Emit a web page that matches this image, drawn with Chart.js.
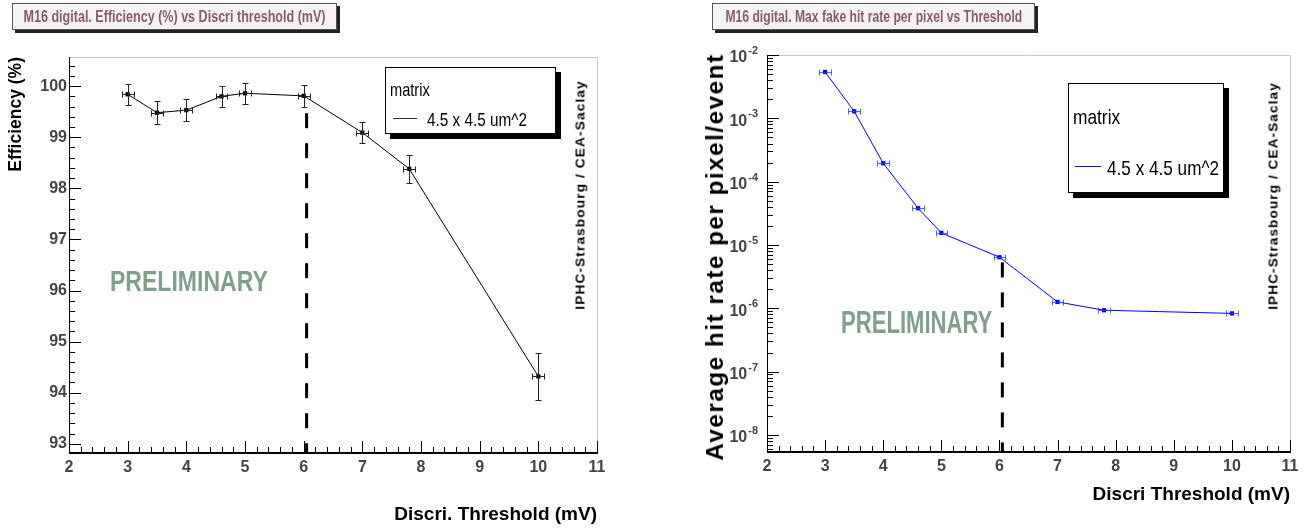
<!DOCTYPE html>
<html>
<head>
<meta charset="utf-8">
<script src="https://cdn.jsdelivr.net/npm/chart.js@4.4.1/dist/chart.umd.min.js"></script>
<style>
  html, body { margin: 0; padding: 0; background: #fff; }
  body { width: 1313px; height: 530px; position: relative; overflow: hidden;
         font-family: "Liberation Sans", Arial, sans-serif; }
  canvas { position: absolute; top: 0; }
  #effCanvas { left: 0; }
  #rateCanvas { left: 656px; }
  .pad-title { position: absolute; top: 3px; height: 27px; box-sizing: border-box;
               display: flex; align-items: center; justify-content: center;
               background: #f4f2f4; border: 1px solid #555; box-shadow: 3px 3px 0 #222;
               color: #8c5a66; font-weight: bold; font-size: 17px; white-space: nowrap; }
  .pad-title span { display: inline-block; transform: scaleX(var(--k, 1)); }
  .legend { position: absolute; box-sizing: border-box; background: #fff; border: 1px solid #000; box-shadow: 5px 5px 0 #000; }
  .legend span { position: absolute; white-space: nowrap; line-height: 1; transform-origin: left center;
                 transform: translateY(-50%) scaleX(var(--k, 1)); }
  .legend i { position: absolute; height: 0; }
  .prelim { position: absolute; color: #80a08c; font-weight: bold; white-space: nowrap; line-height: 1;
            transform-origin: left center; transform: translateY(-50%) scaleX(var(--k, 1)); }
  .vtext { position: absolute; font-weight: bold; white-space: nowrap; line-height: 1;
           transform: translate(-50%, -50%) rotate(-90deg) scaleX(var(--k, 1)); }
</style>
</head>
<body>
<canvas id="effCanvas" width="656" height="530"></canvas>
<canvas id="rateCanvas" width="657" height="530"></canvas>

<div class="pad-title" style="left:12px; width:325px;"><span data-fit="302">M16 digital. Efficiency (%) vs Discri threshold (mV)</span></div>
<div class="pad-title" style="left:712px; width:323px;"><span data-fit="297">M16 digital. Max fake hit rate per pixel vs Threshold</span></div>

<div class="legend" style="left:385px; top:67px; width:171px; height:67px;">
  <span data-fit="40" style="left:4px; top:21px; font-size:19px;">matrix</span>
  <i style="left:7px; top:50px; width:24px; border-top:1.5px solid #333;"></i>
  <span data-fit="100" style="left:41px; top:51px; font-size:19px;">4.5 x 4.5 um^2</span>
</div>
<div class="legend" style="left:1068px; top:83px; width:156px; height:110px;">
  <span data-fit="47" style="left:4px; top:32px; font-size:21px;">matrix</span>
  <i style="left:6px; top:82px; width:26px; border-top:1px solid #0000ff;"></i>
  <span data-fit="112" style="left:38px; top:83px; font-size:21px;">4.5 x 4.5 um^2</span>
</div>

<div class="prelim" data-fit="158" style="left:110px; top:281px; font-size:29px;">PRELIMINARY</div>
<div class="prelim" data-fit="151" style="left:841px; top:322px; font-size:31px;">PRELIMINARY</div>

<div class="vtext" data-fit="230" style="left:580px; top:195px; font-size:13px; letter-spacing:1px;">IPHC-Strasbourg / CEA-Saclay</div>
<div class="vtext" data-fit="228" style="left:1273px; top:196px; font-size:13px; letter-spacing:1px;">IPHC-Strasbourg / CEA-Saclay</div>
<div class="vtext" data-fit="407" style="left:715px; top:257px; font-size:24px; letter-spacing:1.5px;">Average hit rate per pixel/event</div>

<script>
// squeeze overlay labels to the width they take on the canvas
document.querySelectorAll('[data-fit]').forEach(el => {
  el.style.setProperty('--k', (+el.dataset.fit / el.offsetWidth).toFixed(4));
});

// discriminator thresholds (mV) scanned
const thresholds = [3, 3.5, 4, 4.6, 5, 6, 7, 7.8, 10];
const thresholdErr = [0.1, 0.1, 0.1, 0.1, 0.1, 0.1, 0.1, 0.1, 0.1];

// detection efficiency (%)
const efficiency = [99.84, 99.48, 99.53, 99.80, 99.86, 99.81, 99.09, 98.38, 94.32];
const efficiencyErr = [0.21, 0.22, 0.21, 0.21, 0.21, 0.21, 0.21, 0.27, 0.46];

// max fake hit rate per pixel per event
const fakeRate = [5.4e-3, 1.29e-3, 1.95e-4, 3.8e-5, 1.55e-5, 6.4e-6, 1.26e-6, 9.3e-7, 8.3e-7];

// chosen working point
const workingPoint = 6.05;
const effCutTop = 99.47;
const rateCutTop = 5.3e-6;

// axis ranges and tick labels
const xTicks = [2, 3, 4, 5, 6, 7, 8, 9, 10, 11];
const effTicks = [93, 94, 95, 96, 97, 98, 99, 100];
const rateDecades = [-8, -7, -6, -5, -4, -3, -2];
const effMin = 92.82, effMax = 100.57;
const rateMin = Math.pow(10, -8.27), rateMax = 1e-2;

const sans = '"Liberation Sans", sans-serif';
const tickFont = { family: sans, size: 16, weight: 'bold' };
const tickColor = '#444';

// ROOT style frame: ticks pointing into the pad, grey top/right border
const rootFrame = {
  id: 'rootFrame',
  afterDraw(chart, args, opts) {
    const { ctx, chartArea: a, scales: { x, y } } = chart;
    ctx.save();
    ctx.lineWidth = 1;
    ctx.strokeStyle = '#c8c8c8';
    ctx.beginPath();
    ctx.moveTo(a.left, a.top + 0.5); ctx.lineTo(a.right + 0.5, a.top + 0.5); ctx.lineTo(a.right + 0.5, a.bottom);
    ctx.stroke();

    ctx.strokeStyle = '#000';
    ctx.beginPath();
    ctx.moveTo(a.left + 0.5, a.top); ctx.lineTo(a.left + 0.5, a.bottom);
    ctx.stroke();
    ctx.lineWidth = 2;
    ctx.beginPath();
    ctx.moveTo(a.left, a.bottom); ctx.lineTo(a.right + 1, a.bottom);
    ctx.stroke();

    ctx.lineWidth = 1;
    ctx.beginPath();
    for (let i = Math.ceil(x.min * 5); i <= Math.floor(x.max * 5 + 1e-6); i++) {
      const px = Math.round(x.getPixelForValue(i / 5)) + 0.5;
      const len = i % 5 === 0 ? 12 : 6;
      ctx.moveTo(px, a.bottom); ctx.lineTo(px, a.bottom - len);
    }
    if (opts.log) {
      for (let e = -9; e <= -2; e++) {
        for (let m = 1; m <= 9; m++) {
          const v = m * Math.pow(10, e);
          if (v < y.min || v > y.max * 1.0001) continue;
          const py = Math.round(y.getPixelForValue(v)) + 0.5;
          ctx.moveTo(a.left, py); ctx.lineTo(a.left + (m === 1 ? 12 : 6), py);
        }
      }
    } else {
      for (let i = Math.ceil(y.min * 5); i <= Math.floor(y.max * 5); i++) {
        const py = Math.round(y.getPixelForValue(i / 5)) + 0.5;
        ctx.moveTo(a.left, py); ctx.lineTo(a.left + (i % 5 === 0 ? 12 : 6), py);
      }
    }
    ctx.stroke();

    // power-of-ten labels for the log axis
    if (opts.log) {
      ctx.fillStyle = tickColor;
      ctx.textBaseline = 'middle';
      ctx.textAlign = 'right';
      rateDecades.forEach(e => {
        const py = y.getPixelForValue(Math.pow(10, e));
        const right = a.left - 9;
        ctx.font = `bold 11px ${sans}`;
        ctx.fillText(String(e), right, py - 4);
        const ew = ctx.measureText(String(e)).width;
        ctx.font = `bold 16px ${sans}`;
        ctx.fillText('10', right - ew - 1, py + 3);
      });
    }
    ctx.restore();
  }
};

// horizontal and vertical error bars with end caps
const errorBars = {
  id: 'errorBars',
  afterDatasetsDraw(chart, args, opts) {
    if (!opts.x) return;
    const { ctx, scales: { x, y } } = chart;
    const cap = 3;
    ctx.save();
    ctx.strokeStyle = opts.color;
    ctx.lineWidth = 1;
    ctx.beginPath();
    opts.x.forEach((xv, i) => {
      const px = Math.round(x.getPixelForValue(xv)) + 0.5;
      const py = Math.round(y.getPixelForValue(opts.y[i])) + 0.5;
      if (opts.xErr) {
        const l = Math.round(x.getPixelForValue(xv - opts.xErr[i])) + 0.5;
        const r = Math.round(x.getPixelForValue(xv + opts.xErr[i])) + 0.5;
        ctx.moveTo(l, py); ctx.lineTo(r, py);
        ctx.moveTo(l, py - cap); ctx.lineTo(l, py + cap);
        ctx.moveTo(r, py - cap); ctx.lineTo(r, py + cap);
      }
      if (opts.yErr) {
        const t = Math.round(y.getPixelForValue(opts.y[i] + opts.yErr[i])) + 0.5;
        const b = Math.round(y.getPixelForValue(opts.y[i] - opts.yErr[i])) + 0.5;
        ctx.moveTo(px, t); ctx.lineTo(px, b);
        ctx.moveTo(px - cap, t); ctx.lineTo(px + cap, t);
        ctx.moveTo(px - cap, b); ctx.lineTo(px + cap, b);
      }
    });
    ctx.stroke();
    ctx.restore();
  }
};

function xScale(titleText, titlePadBottom, height) {
  return {
    type: 'linear', min: 2, max: 11, position: 'bottom',
    afterBuildTicks: s => { s.ticks = xTicks.map(v => ({ value: v })); },
    afterFit: s => { s.height = height; },
    grid: { display: false, drawTicks: false },
    border: { display: false },
    ticks: { font: tickFont, color: tickColor, padding: 5 },
    title: {
      display: true, text: titleText, align: 'end', color: '#000',
      font: { family: sans, size: 19, weight: 'bold' },
      padding: { top: 0, bottom: titlePadBottom }
    }
  };
}

new Chart(document.getElementById('effCanvas'), {
  type: 'scatter',
  data: {
    datasets: [{
      data: thresholds.map((t, i) => ({ x: t, y: efficiency[i] })),
      showLine: true, borderColor: '#000', borderWidth: 1,
      pointStyle: 'rect', pointRadius: 3, pointBackgroundColor: '#000', pointBorderWidth: 0
    }, {
      data: [{ x: workingPoint, y: effCutTop }, { x: workingPoint, y: effMin }],
      showLine: true, borderColor: '#000', borderWidth: 3, borderDash: [15, 15],
      pointRadius: 0
    }]
  },
  options: {
    responsive: false, animation: false,
    layout: { padding: { top: 57, right: 59, left: 0, bottom: 0 } },
    plugins: {
      legend: { display: false }, tooltip: { enabled: false },
      errorBars: { x: thresholds, y: efficiency, xErr: thresholdErr, yErr: efficiencyErr, color: '#222' },
      rootFrame: { log: false }
    },
    scales: {
      x: xScale('Discri. Threshold (mV)', 4, 77),
      y: {
        type: 'linear', min: effMin, max: effMax,
        afterBuildTicks: s => { s.ticks = effTicks.map(v => ({ value: v })); },
        afterFit: s => { s.width = 69; },
        grid: { display: false, drawTicks: false },
        border: { display: false },
        ticks: { font: tickFont, color: tickColor, padding: 2 },
        title: {
          display: true, text: 'Efficiency (%)', align: 'end', color: '#000',
          font: { family: sans, size: 17.5, weight: 'bold' },
          padding: { top: 6, bottom: 0 }
        }
      }
    }
  },
  plugins: [rootFrame, errorBars]
});

new Chart(document.getElementById('rateCanvas'), {
  type: 'scatter',
  data: {
    datasets: [{
      data: thresholds.map((t, i) => ({ x: t, y: fakeRate[i] })),
      showLine: true, borderColor: '#0000ff', borderWidth: 1,
      pointStyle: 'rect', pointRadius: 3, pointBackgroundColor: '#0000ff', pointBorderWidth: 0
    }, {
      data: [{ x: workingPoint, y: rateCutTop }, { x: workingPoint, y: rateMin }],
      showLine: true, borderColor: '#000', borderWidth: 3, borderDash: [15, 15],
      pointRadius: 0
    }]
  },
  options: {
    responsive: false, animation: false,
    layout: { padding: { top: 55, right: 23, left: 0, bottom: 0 } },
    plugins: {
      legend: { display: false }, tooltip: { enabled: false },
      errorBars: { x: thresholds, y: fakeRate, xErr: thresholdErr, color: 'rgba(40,60,255,0.8)' },
      rootFrame: { log: true }
    },
    scales: {
      x: xScale('Discri Threshold (mV)', 24, 78),
      y: {
        type: 'logarithmic', min: rateMin, max: rateMax,
        afterFit: s => { s.width = 111; },
        grid: { display: false, drawTicks: false },
        border: { display: false },
        ticks: { display: false },
        title: { display: false }
      }
    }
  },
  plugins: [rootFrame, errorBars]
});
</script>
</body>
</html>
